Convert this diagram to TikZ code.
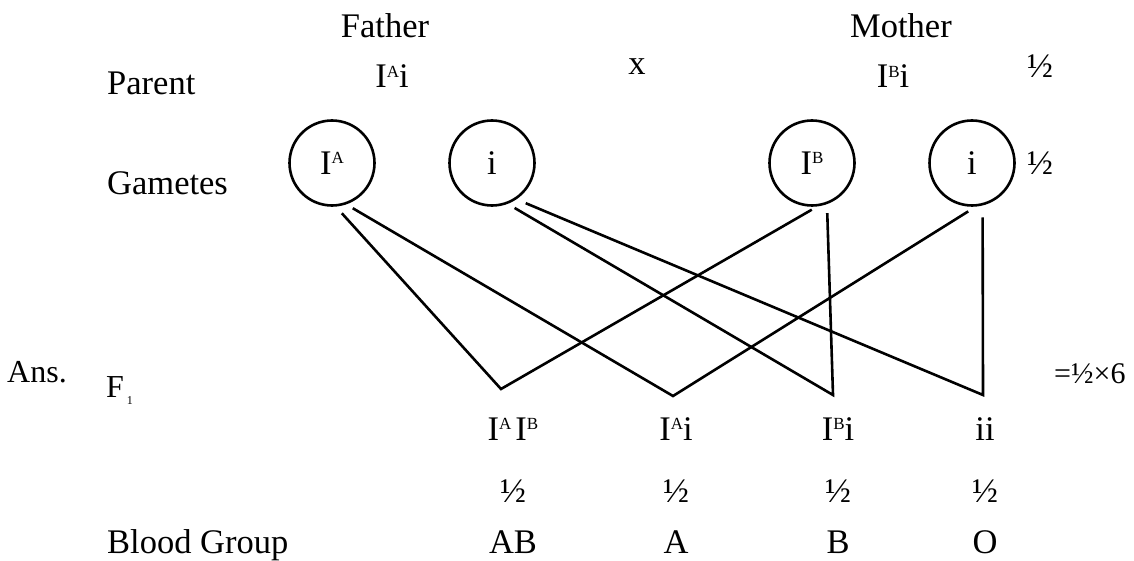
\documentclass[tikz,border=0pt]{standalone}
\usepackage{fontspec}
\setmainfont{Liberation Serif}
\usepackage{tikz}

\newcommand{\allele}[1]{I\raisebox{10.5pt}{\fontsize{17}{17}\selectfont #1}}

\begin{document}
\begin{tikzpicture}[x=1pt, y=-1pt,
		every node/.style={font=\fontsize{34.5}{40}\selectfont, inner sep=0pt},
		gamete/.style={circle, draw=black, line width=2.6pt, minimum size=85pt, inner sep=0pt},
		crossline/.style={draw=black, line width=2.6pt}]
		\useasboundingbox (0,0) rectangle (1134,561);
		
		% ===== PARENTS =====
		\node[anchor=base] (father) at (385,38) {Father};
		\node[anchor=base] (mother) at (901,38) {Mother};
		\node[anchor=base west] (parentlbl) at (107,95) {Parent};
		\node[anchor=base] (fgeno) at (392,88) {\allele{A}i};
		\node[anchor=base] (crosslbl) at (637,75) {x};
		\node[anchor=base] (mgeno) at (893,88) {\allele{B}i};
		\node[anchor=base] (halftop) at (1040,78) {½};
		
		% ===== GAMETES =====
		\node[anchor=base west] (gametelbl) at (107,195) {Gametes};
		\node[gamete] (gA) at (332,163) {\allele{A}};
		\node[gamete] (gi) at (492,163) {i};
		\node[gamete] (gB) at (812,163) {\allele{B}};
		\node[gamete] (gii) at (972,163) {i};
		\node[anchor=base] (halfgam) at (1040,175) {½};
		
		% ===== F1 CROSSES =====
		\node[anchor=base west, font=\fontsize{32}{38}\selectfont] (ans) at (7,382) {Ans.};
		\node[anchor=base west, font=\fontsize{32}{38}\selectfont] (fone) at (106,397) {F\hspace{3pt}\raisebox{-7pt}{\fontsize{12}{12}\selectfont 1}};
		\node[anchor=base west, font=\fontsize{30}{36}\selectfont] (ratio) at (1054,383) {=½×6};
		
		\coordinate (m1) at (501,389);
		\coordinate (m2) at (673,396);
		\coordinate (m3) at (833,395);
		\coordinate (m4) at (983,395);
		
		\draw[crossline, shorten <=9pt, shorten >=6.4pt] (gA.-85.7) -- (m1) -- (gB.-83.2);
		\draw[crossline, shorten <=7.5pt, shorten >=9pt] (gA.-71.9) -- (m2) -- (gii.-85.7);
		\draw[crossline, shorten <=8pt, shorten >=9pt] (gi.-69.8) -- (m3) -- (gB.-70.2);
		\draw[crossline, shorten <=10pt, shorten >=12pt] (gi.-56.3) -- (m4) -- (gii.-76.7);
		
		% Offspring genotypes
		\node[anchor=base] (off1) at (513,440) {\allele{A}\hspace{4pt}\allele{B}};
		\node[anchor=base] (off2) at (676,440) {\allele{A}i};
		\node[anchor=base] (off3) at (838,440) {\allele{B}i};
		\node[anchor=base] (off4) at (985,440) {ii};
		
		% Ratios
		\node[anchor=base] (half1) at (513,502) {½};
		\node[anchor=base] (half2) at (676,502) {½};
		\node[anchor=base] (half3) at (838,502) {½};
		\node[anchor=base] (half4) at (985,502) {½};
		
		% ===== BLOOD GROUPS =====
		\node[anchor=base west] (bloodlbl) at (107,553) {Blood Group};
		\node[anchor=base] (bg1) at (513,553) {AB};
		\node[anchor=base] (bg2) at (676,553) {A};
		\node[anchor=base] (bg3) at (838,553) {B};
		\node[anchor=base] (bg4) at (985,553) {O};
		
	\end{tikzpicture}
\end{document}
